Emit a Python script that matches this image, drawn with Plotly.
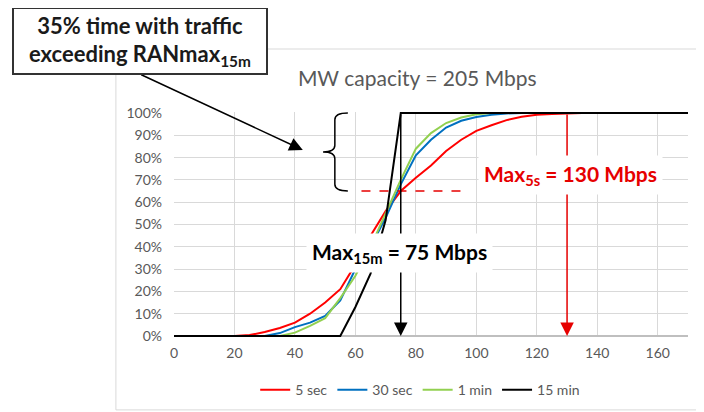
"""
Traffic CDF on a microwave backhaul link: share of time under a given rate,
for different averaging windows (5 sec up to 15 min).
"""

import plotly.graph_objects as go

# x values (Mbps) for the short-window curves
rate_mbps = [0, 5, 10, 15, 20, 25, 30, 35, 40, 45, 50, 55, 60, 65, 70,
             75, 80, 85, 90, 95, 100, 105, 110, 115, 120, 125, 130, 135, 140]

# cumulative share of time (%)
cdf_5sec = [0, 0, 0, 0, 0, 0.4, 1.8, 3.6, 6, 10, 15, 21, 32, 45, 56,
            65, 71, 76.5, 83, 88, 92, 94.5, 96.8, 98.3, 99.2, 99.6, 99.9, 100, 100]
cdf_30sec = [0, 0, 0, 0, 0, 0, 0, 1.3, 4, 6, 9, 16, 30, 40, 53,
             68, 81, 88, 93.5, 96.5, 98.2, 99.2, 99.8, 100, 100, 100, 100, 100, 100]
cdf_1min = [0, 0, 0, 0, 0, 0, 0, 0, 1.5, 4.5, 8, 17, 27, 40, 55,
            70, 84, 91, 95.5, 98, 99.4, 100, 100, 100, 100, 100, 100, 100, 100]

# 15 min window has its own points
rate_15min = [0, 55, 60, 65, 70, 75, 170]
cdf_15min = [0, 0, 13, 28, 52, 100, 100]

series_names = ["5 sec", "30 sec", "1 min", "15 min"]
series_colors = ["#ff0000", "#0070c0", "#92d050", "#000000"]

# annotated values
mw_capacity = 205
max_15m = 75
max_5s = 130
level_15m = 65  # share of time below max_15m for the 5 sec curve

x_ticks = [0, 20, 40, 60, 80, 100, 120, 140, 160]
y_ticks = [0, 10, 20, 30, 40, 50, 60, 70, 80, 90, 100]
y_tick_labels = [f"{v}%" for v in y_ticks]

GREY = "#595959"
RED = "#e60000"
FONT = "Lato"


def build_figure():
    fig = go.Figure()

    curves = [
        (rate_mbps, cdf_5sec),
        (rate_mbps, cdf_30sec),
        (rate_mbps, cdf_1min),
        (rate_15min, cdf_15min),
    ]
    for (xs, ys), name, color in zip(curves, series_names, series_colors):
        fig.add_trace(
            go.Scatter(
                x=xs,
                y=ys,
                mode="lines",
                name=name,
                line=dict(color=color, width=2),
            )
        )

    # brace marking the share of time above max_15m
    brace = (
        "M 57.5,100 Q 53.2,100 53.2,97 L 53.2,85.5 Q 53.2,82.5 49.3,82.5 "
        "Q 53.2,82.5 53.2,79.5 L 53.2,68 Q 53.2,65 57.5,65"
    )
    fig.add_shape(type="path", path=brace, xref="x", yref="y",
                  line=dict(color="black", width=1.5))

    # red dashed level line
    fig.add_shape(type="line", xref="x", yref="y",
                  x0=62, x1=97, y0=level_15m, y1=level_15m,
                  line=dict(color=RED, width=1.5, dash="dash"))

    # outer chart frame
    fig.add_shape(type="rect", xref="paper", yref="paper",
                  x0=-0.113, x1=1.05, y0=-0.324, y1=1.28,
                  line=dict(color="#d9d9d9", width=1), layer="below")

    # vertical arrows (drawn first, the labels cover them)
    for xv, color in [(max_15m, "black"), (max_5s, RED)]:
        fig.add_annotation(
            x=xv, y=0, ax=xv, ay=100, xref="x", yref="y", axref="x", ayref="y",
            text="", showarrow=True, arrowhead=2, arrowsize=1.8,
            arrowwidth=1.5, arrowcolor=color, standoff=0,
        )

    fig.add_annotation(
        x=max_15m - 0.3, y=37, xref="x", yref="y",
        text=f"Max<sub>15m</sub> = {max_15m} Mbps",
        showarrow=False, bgcolor="white", borderpad=5,
        font=dict(family=FONT, size=21, color="black", weight="bold"),
    )
    fig.add_annotation(
        x=max_5s + 1, y=72, xref="x", yref="y",
        text=f"Max<sub>5s</sub> = {max_5s} Mbps",
        showarrow=False, bgcolor="white", borderpad=5,
        font=dict(family=FONT, size=21, color=RED, weight="bold"),
    )

    # callout box + arrow pointing at the brace
    fig.add_annotation(
        x=42.6, y=83.4, xref="x", yref="y", ax=-163, ay=-76,
        text="", showarrow=True, arrowhead=2, arrowsize=1.8,
        arrowwidth=1.5, arrowcolor="black", standoff=0,
    )
    fig.add_annotation(
        x=-0.066, y=1.316, xref="paper", yref="paper",
        xanchor="center", yanchor="middle",
        text="35% time with traffic<br>exceeding RANmax<sub>15m</sub>",
        showarrow=False, bgcolor="white", bordercolor="#333333",
        borderwidth=2, width=250, height=62,
        font=dict(family=FONT, size=22, color="#1a1a1a", weight="bold"),
    )

    # the page body adds an 8px margin, so the figure is 8px smaller
    fig.update_layout(
        width=696,
        height=404,
        margin=dict(l=166, r=16, t=104, b=75, autoexpand=False),
        paper_bgcolor="white",
        plot_bgcolor="white",
        font=dict(family=FONT, size=14, color=GREY),
        title=dict(
            text=f"MW capacity = {mw_capacity} Mbps",
            x=0.588, y=0.824, xanchor="center", yanchor="middle",
            xref="container", yref="container",
            font=dict(family=FONT, size=21, color=GREY),
        ),
        showlegend=True,
        legend=dict(
            orientation="h", x=0.479, y=-0.236,
            xanchor="center", yanchor="middle",
            font=dict(size=14, color=GREY),
        ),
    )
    fig.update_xaxes(
        range=[0, 170], tickvals=x_ticks, showgrid=True,
        gridcolor="#d9d9d9", gridwidth=1, zeroline=False,
        showline=False, ticklabelstandoff=6,
        tickfont=dict(size=14, color=GREY),
    )
    fig.update_yaxes(
        range=[-0.45, 100.45], tickvals=y_ticks, ticktext=y_tick_labels,
        showgrid=True, gridcolor="#d9d9d9", gridwidth=1,
        zeroline=True, zerolinecolor="#bfbfbf", zerolinewidth=1.5,
        showline=False, ticklabelstandoff=11,
        tickfont=dict(size=14, color=GREY),
    )
    return fig


def main():
    fig = build_figure()
    fig.write_html("out.html")
    print("Saved out.html")


if __name__ == "__main__":
    main()
